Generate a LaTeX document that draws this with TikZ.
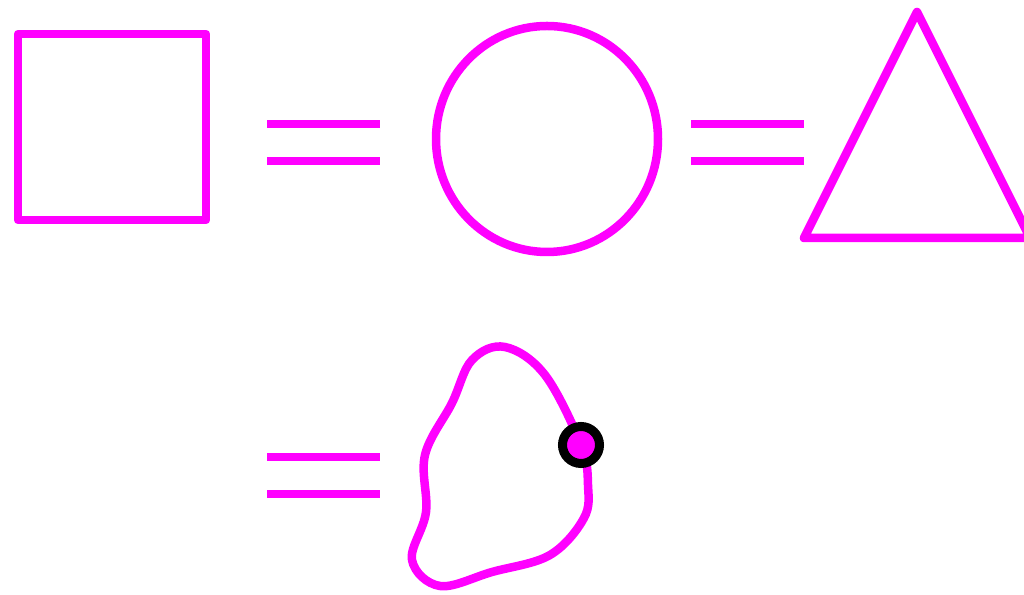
\documentclass[tikz,border=0pt]{standalone}
\usepackage{tikz}

\definecolor{shapecol}{RGB}{255,0,255}
\tikzset{
  shape line/.style={shapecol,line width=0.085cm,line join=round},
  eqbar/.style={shapecol,line width=0.085cm},
  dot/.style={circle,fill=shapecol,draw=black,line width=0.09cm,minimum size=0.37cm,inner sep=0pt}
}

\begin{document}
\begin{tikzpicture}[x=0.01cm,y=-0.01cm]
  \useasboundingbox (0,0) rectangle (1024,595);
  \clip (0,0) rectangle (1024,595);
  % shapes
  \draw[shape line] (18,34) rectangle (206,220);
  \draw[shape line] (547,139) ellipse (111 and 113);
  \draw[shape line] (917,12) -- (804,238) -- (1030,238) -- cycle;
  % equal signs
  \foreach \x/\y in {267/124,691/124,267/457} {
    \draw[eqbar] (\x,\y) -- ++(113,0);
    \draw[eqbar] (\x,\y+37) -- ++(113,0);
  }
  % blob
  \draw[shape line] plot[smooth cycle,tension=0.6] coordinates {
    (581,445) (545,375) (505,347) (472,360) (452,403) (425,455)
    (426,512) (412,560) (440,586) (492,572) (550,555) (584,518)
    (588,485)};
  \node[dot] (p) at (581,445) {};
\end{tikzpicture}
\end{document}
